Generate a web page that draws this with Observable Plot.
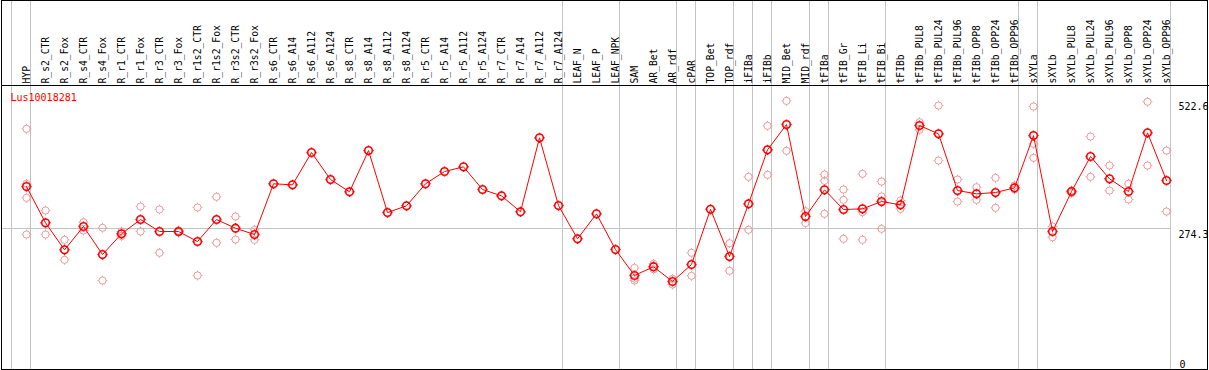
<!DOCTYPE html>
<html>
<head>
<meta charset="utf-8">
<script src="https://cdn.jsdelivr.net/npm/d3@7"></script>
<script src="https://cdn.jsdelivr.net/npm/@observablehq/plot@0.6"></script>
<style>
  html, body { margin: 0; padding: 0; background: #fff; }
  #chart svg { display: block; }
</style>
</head>
<body>
<div id="chart"></div>
<script>
const seriesName = "Lus10018281";

const categories = [
  "HYP", "R_s2_CTR", "R_s2_Fox", "R_s4_CTR", "R_s4_Fox", "R_r1_CTR", "R_r1_Fox", "R_r3_CTR", "R_r3_Fox",
  "R_r1s2_CTR", "R_r1s2_Fox", "R_r3s2_CTR", "R_r3s2_Fox", "R_s6_CTR", "R_s6_A14", "R_s6_A112", "R_s6_A124",
  "R_s8_CTR", "R_s8_A14", "R_s8_A112", "R_s8_A124", "R_r5_CTR", "R_r5_A14", "R_r5_A112", "R_r5_A124",
  "R_r7_CTR", "R_r7_A14", "R_r7_A112", "R_r7_A124", "LEAF_N", "LEAF_P", "LEAF_NPK", "SAM", "AR_Bet", "AR_rdf",
  "cPAR", "TOP_Bet", "TOP_rdf", "iFIBa", "iFIBb", "MID_Bet", "MID_rdf", "tFIBa", "tFIB_Gr", "tFIB_Li", "tFIB_Bi",
  "tFIBb", "tFIBb_PUL8", "tFIBb_PUL24", "tFIBb_PUL96", "tFIBb_OPP8", "tFIBb_OPP24", "tFIBb_OPP96",
  "sXYLa", "sXYLb", "sXYLb_PUL8", "sXYLb_PUL24", "sXYLb_PUL96", "sXYLb_OPP8", "sXYLb_OPP24", "sXYLb_OPP96"
];

const means = [
  356.0, 285.4, 232.9, 278.2, 223.7, 264.0, 291.8, 268.5, 268.5, 249.0, 291.8, 274.9, 262.6,
  361.3, 359.3, 422.2, 369.6, 345.7, 426.0, 305.4, 318.5, 361.3, 385.2, 394.3, 350.2, 337.9, 306.8, 450.8, 319.0,
  254.3, 302.9, 233.4,
  182.9, 200.0, 171.2, 204.3, 311.7, 219.8, 322.4, 427.4, 476.6, 297.6, 349.6, 311.3, 312.6, 326.8,
  320.4, 474.7, 458.5, 348.2, 341.8, 344.3, 353.5, 455.2, 268.5, 346.3, 414.4, 371.0, 346.3, 460.5, 367.7
];

const replicates = [
  [468.3, 361.3, 334.0, 262.6], [309.3, 262.6], [252.3, 213.4], [286.6, 270.4], [275.7, 173.1],
  [268.5, 259.7], [317.1, 268.5], [311.3, 227.0], [270.5, 266.5], [315.2, 182.9], [336.0, 246.5],
  [297.6, 252.9], [271.8, 252.3],
  [], [], [], [], [], [], [], [], [], [], [], [], [], [], [], [], [], [], [],
  [197.8, 177.0, 173.1], [205.6, 195.1], [176.4, 165.4], [227.0, 182.3], [], [245.7, 192.0],
  [374.9, 271.8], [474.1, 378.8], [522.6, 425.5], [308.0, 285.0], [379.4, 367.1, 302.9],
  [350.2, 330.1, 254.3], [380.7, 306.0, 252.3], [365.7, 336.6, 273.7], [328.8, 312.6],
  [481.1, 466.3], [513.6, 406.6], [369.6, 326.8], [354.7, 330.1], [372.9, 314.6], [358.0, 350.2],
  [511.6, 439.1, 411.8], [278.2, 257.4], [348.2, 343.8], [453.3, 374.9], [396.9, 348.2],
  [361.3, 330.7], [521.0, 396.9], [426.0, 307.4]
];

// index of the last category in each group (-1 = before the first)
const groupEnds = [-1, 0, 28, 31, 34, 35, 37, 38, 39, 41, 42, 45, 52, 53, 60];
const axisLabelsTop = [522.6, 274.3];
const axisLabelsBottom = [0];
const gridLines = [274.3];
const yMax = 522.6;

const meanData = means.map((v, i) => ({i, v}));
const repData = replicates.flatMap((arr, i) => arr.map(v => ({i, v})));

const ringTick = {
  draw(ctx, size) {
    const r = Math.sqrt(size / Math.PI);
    const t = 1.3;
    ctx.moveTo(r, 0);
    ctx.arc(0, 0, r, 0, 2 * Math.PI);
    ctx.moveTo(r, 0); ctx.lineTo(r + t, 0);
    ctx.moveTo(-r, 0); ctx.lineTo(-r - t, 0);
    ctx.moveTo(0, r); ctx.lineTo(0, r + t);
    ctx.moveTo(0, -r); ctx.lineTo(0, -r - t);
  }
};

const gray = "#c4c4c4";
const pale = "#ee9c9c";

const chart = Plot.plot({
  width: 1209,
  height: 370,
  marginTop: 85,
  marginLeft: 10,
  marginRight: 38,
  marginBottom: 0,
  style: {fontFamily: "'DejaVu Sans Mono', monospace", fontSize: "10px", background: "#fff"},
  x: {type: "linear", domain: [0, categories.length - 1], range: [26, 1166], axis: null},
  y: {type: "linear", domain: [0, yMax], range: [369, 100.4], axis: null},
  marks: [
    Plot.ruleY(gridLines, {y: d => d, stroke: gray, strokeOpacity: 1, insetLeft: -9}),
    Plot.ruleX(groupEnds, {x: d => d, dx: 4, stroke: gray, strokeOpacity: 1, insetTop: -85}),
    Plot.frame({anchor: "top", stroke: "#000", insetLeft: -9, insetRight: -37}),
    Plot.frame({stroke: "#000", insetLeft: -9, insetRight: -36, insetTop: -85, insetBottom: 1}),
    Plot.text(categories, {
      x: (d, i) => i, text: d => d, frameAnchor: "top", dx: -3, dy: -2,
      rotate: -90, textAnchor: "start", fill: "#000", fontSize: 9.7
    }),
    Plot.text([seriesName], {
      text: d => d, frameAnchor: "top-left", dy: 8, lineAnchor: "top",
      textAnchor: "start", fill: "red"
    }),
    Plot.text(axisLabelsTop, {
      y: d => d, text: d => String(d), frameAnchor: "right", dx: 7, dy: 2,
      lineAnchor: "top", textAnchor: "start", fill: "#000"
    }),
    Plot.text(axisLabelsBottom, {
      y: d => d, text: d => String(d), frameAnchor: "right", dx: 8, dy: -2,
      lineAnchor: "bottom", textAnchor: "start", fill: "#000"
    }),
    Plot.dot(repData, {x: "i", y: "v", r: 3.6, symbol: ringTick, stroke: pale, strokeWidth: 1, fill: "none"}),
    Plot.line(meanData, {x: "i", y: "v", stroke: "red", strokeWidth: 1}),
    Plot.dot(meanData, {x: "i", y: "v", r: 3.8, symbol: ringTick, stroke: "red", strokeWidth: 1.6, fill: "none"})
  ]
});

document.getElementById("chart").appendChild(chart);
</script>
</body>
</html>
